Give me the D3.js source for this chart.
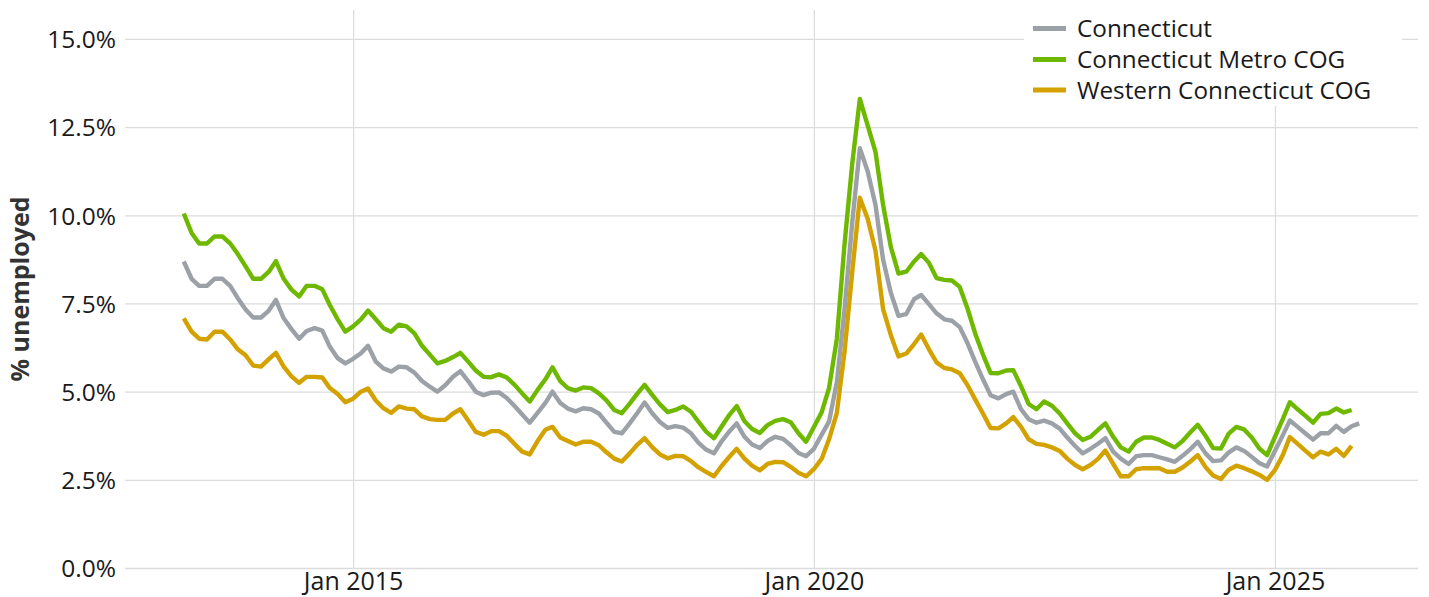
<!DOCTYPE html>
<html>
<head>
<meta charset="utf-8">
<script src="https://cdn.jsdelivr.net/npm/d3@7"></script>
<style>
  body { margin: 0; background: #fff; }
  svg text { font-family: "Open Sans", "Noto Sans", sans-serif; }
</style>
</head>
<body>
<div id="chart"></div>
<script>
// monthly, first of month, starting Mar 2013
let startMonth = new Date(2013, 2, 1);

let ct_values = [
  8.69, 8.2, 8.0, 8.0, 8.2, 8.2, 8.0, 7.65, 7.33, 7.1,
  7.1, 7.3, 7.6, 7.08, 6.78, 6.5, 6.72, 6.8, 6.73, 6.27,
  5.95, 5.8, 5.93, 6.09, 6.3, 5.85, 5.66, 5.57, 5.71, 5.69,
  5.54, 5.3, 5.14, 5.0, 5.18, 5.42, 5.58, 5.3, 5.0, 4.9,
  4.97, 4.98, 4.82, 4.6, 4.35, 4.12, 4.4, 4.68, 5.0, 4.68,
  4.52, 4.44, 4.53, 4.5, 4.38, 4.12, 3.86, 3.82, 4.1, 4.4,
  4.69, 4.38, 4.14, 3.97, 4.02, 3.98, 3.82, 3.55, 3.35, 3.25,
  3.6, 3.88, 4.1, 3.72, 3.5, 3.4, 3.6, 3.72, 3.66, 3.48,
  3.26, 3.17, 3.38, 3.78, 4.15, 5.27, 7.3, 9.8, 11.9, 11.25,
  10.3, 8.75, 7.8, 7.15, 7.2, 7.62, 7.74, 7.48, 7.22, 7.05,
  7.01, 6.83, 6.37, 5.85, 5.35, 4.9, 4.81, 4.93, 5.0, 4.5,
  4.22, 4.12, 4.18, 4.1, 3.95, 3.7, 3.46, 3.25, 3.38, 3.53,
  3.68, 3.3, 3.1, 2.95, 3.17, 3.2, 3.2, 3.14, 3.08, 3.01,
  3.18, 3.37, 3.58, 3.25, 3.03, 3.05, 3.27, 3.42, 3.32, 3.15,
  2.97, 2.88, 3.32, 3.76, 4.18, 4.0, 3.82, 3.64, 3.82, 3.82,
  4.03, 3.86, 4.02, 4.1
];

let metro_values = [
  10.05, 9.5, 9.2, 9.2, 9.4, 9.4, 9.2, 8.9, 8.55, 8.2,
  8.2, 8.4, 8.7, 8.2, 7.9, 7.7, 8.0, 8.0, 7.9, 7.45,
  7.05, 6.7, 6.85, 7.05, 7.3, 7.05, 6.8, 6.7, 6.9, 6.85,
  6.65, 6.3, 6.05, 5.8, 5.87, 5.98, 6.1, 5.85, 5.6, 5.42,
  5.41, 5.49, 5.4, 5.2, 4.95, 4.72, 5.05, 5.35, 5.69, 5.3,
  5.1, 5.03, 5.12, 5.1, 4.95, 4.75, 4.48, 4.39, 4.66, 4.95,
  5.19, 4.9, 4.64, 4.42, 4.48, 4.58, 4.43, 4.14, 3.86, 3.68,
  4.02, 4.35, 4.59, 4.16, 3.94, 3.83, 4.05, 4.17, 4.22, 4.13,
  3.82, 3.58, 4.0, 4.42, 5.1, 6.5, 9.15, 11.47, 13.3, 12.55,
  11.8, 10.3, 9.1, 8.35, 8.4, 8.69, 8.9, 8.65, 8.22, 8.17,
  8.15, 7.97, 7.35, 6.65, 6.05, 5.53, 5.52, 5.6, 5.61, 5.15,
  4.65, 4.5, 4.72, 4.6, 4.38, 4.1, 3.82, 3.63, 3.72, 3.92,
  4.1, 3.72, 3.42, 3.3, 3.58, 3.7, 3.7, 3.63, 3.52, 3.42,
  3.6, 3.85, 4.06, 3.75, 3.4, 3.39, 3.8, 4.0, 3.93, 3.7,
  3.38, 3.2, 3.72, 4.22, 4.7, 4.5, 4.32, 4.12, 4.37, 4.39,
  4.52, 4.41, 4.48
];

let western_values = [
  7.08, 6.7, 6.5, 6.48, 6.7, 6.7, 6.48, 6.2, 6.03, 5.74,
  5.71, 5.92, 6.1, 5.71, 5.44, 5.25, 5.42, 5.42, 5.4, 5.1,
  4.93, 4.7, 4.8, 5.0, 5.09, 4.75, 4.53, 4.4, 4.58, 4.52,
  4.5, 4.3, 4.22, 4.2, 4.2, 4.38, 4.5, 4.18, 3.86, 3.78,
  3.88, 3.88, 3.75, 3.52, 3.3, 3.22, 3.6, 3.92, 4.0, 3.7,
  3.6, 3.5, 3.58, 3.58, 3.48, 3.28, 3.1, 3.02, 3.25, 3.5,
  3.68, 3.42, 3.22, 3.11, 3.18, 3.17, 3.03, 2.85, 2.72, 2.6,
  2.9, 3.16, 3.38, 3.1, 2.9, 2.77, 2.95, 3.01, 3.0, 2.87,
  2.7, 2.6, 2.8, 3.1, 3.65, 4.4, 6.1, 8.4, 10.5, 9.9,
  9.0, 7.35, 6.6, 6.0, 6.08, 6.35, 6.62, 6.2, 5.83, 5.67,
  5.63, 5.52, 5.18, 4.78, 4.38, 3.97, 3.96, 4.1, 4.28, 4.0,
  3.65, 3.52, 3.49, 3.42, 3.32, 3.1, 2.92, 2.8, 2.92, 3.1,
  3.33, 2.95, 2.6, 2.6, 2.8, 2.83, 2.83, 2.83, 2.73, 2.73,
  2.85, 3.02, 3.2, 2.86, 2.62, 2.52, 2.78, 2.9, 2.83, 2.74,
  2.64, 2.5, 2.78, 3.2, 3.71, 3.52, 3.33, 3.14, 3.3, 3.22,
  3.38, 3.18, 3.46
];

let series_names = ["Connecticut", "Connecticut Metro COG", "Western Connecticut COG"];
let series_colors = ["#9ca0a7", "#6eb800", "#d3a200"];
let y_ticks = [0, 2.5, 5, 7.5, 10, 12.5, 15];
let x_ticks = [new Date(2015, 0, 1), new Date(2020, 0, 1), new Date(2025, 0, 1)];

let width = 1429, height = 597;
let panel = {left: 125, right: 1418, top: 10, bottom: 568};

function monthsFrom(n) {
  return d3.range(n).map(i => d3.timeMonth.offset(startMonth, i));
}

let series = [ct_values, metro_values, western_values].map((vals, k) => {
  let dates = monthsFrom(vals.length);
  return {
    name: series_names[k],
    color: series_colors[k],
    points: vals.map((v, i) => ({date: dates[i], value: v}))
  };
});

// ggplot style 5% expansion on the time axis
let allDates = series[0].points.map(d => d.date);
let t0 = d3.min(allDates).getTime(), t1 = d3.max(allDates).getTime();
let pad = (t1 - t0) * 0.05;

let xScale = d3.scaleTime()
  .domain([new Date(t0 - pad), new Date(t1 + pad)])
  .range([panel.left, panel.right]);

let yScale = d3.scaleLinear()
  .domain([0, 15.82])
  .range([panel.bottom, panel.top]);

let svg = d3.select("#chart").append("svg")
  .attr("width", width)
  .attr("height", height)
  .style("background", "#fff");

let grid_color = "#dcdcdc";

// horizontal grid + y labels
let yAxis = d3.axisLeft(yScale)
  .tickValues(y_ticks)
  .tickSize(-(panel.right - panel.left))
  .tickPadding(9)
  .tickFormat(d => d3.format(".1f")(d) + "%");

let gy = svg.append("g")
  .attr("transform", "translate(" + panel.left + ",0)")
  .call(yAxis);
gy.select(".domain").remove();
gy.selectAll(".tick line").attr("stroke", grid_color).attr("stroke-width", 1.3);
gy.selectAll(".tick text")
  .attr("fill", "#1a1a1a")
  .style("font-size", "24.5px")
  .attr("dy", "0.36em");

// vertical grid + x labels
let xAxis = d3.axisBottom(xScale)
  .tickValues(x_ticks)
  .tickSize(-(panel.bottom - panel.top))
  .tickPadding(22)
  .tickFormat(d3.timeFormat("%b %Y"));

let gx = svg.append("g")
  .attr("transform", "translate(0," + panel.bottom + ")")
  .call(xAxis);
gx.select(".domain").remove();
gx.selectAll(".tick line").attr("stroke", grid_color).attr("stroke-width", 1.3);
gx.selectAll(".tick text")
  .attr("fill", "#1a1a1a")
  .style("font-size", "25px")
  .attr("dy", "0");

// y title
svg.append("text")
  .attr("transform", "translate(29," + ((panel.top + panel.bottom) / 2) + ") rotate(-90)")
  .attr("text-anchor", "middle")
  .attr("fill", "#333")
  .style("font-size", "25px")
  .style("font-weight", "bold")
  .text("% unemployed");

// lines
let line = d3.line()
  .x(d => xScale(d.date))
  .y(d => yScale(d.value));

svg.append("g").selectAll("path")
  .data(series)
  .join("path")
  .attr("d", d => line(d.points))
  .attr("fill", "none")
  .attr("stroke", d => d.color)
  .attr("stroke-width", 4.4)
  .attr("stroke-linejoin", "round");

// legend
let legend = svg.append("g");
legend.append("rect")
  .attr("x", 1024).attr("y", 8)
  .attr("width", 378).attr("height", 98)
  .attr("fill", "#fff");

let legendRows = [28.5, 59.5, 90];
let items = legend.selectAll("g.item")
  .data(series)
  .join("g")
  .attr("class", "item")
  .attr("transform", (d, i) => "translate(0," + legendRows[i] + ")");

items.append("line")
  .attr("x1", 1033).attr("x2", 1066)
  .attr("stroke", d => d.color)
  .attr("stroke-width", 5);

items.append("text")
  .attr("x", 1077)
  .attr("dy", "0.36em")
  .attr("fill", "#1a1a1a")
  .style("font-size", "24.3px")
  .text(d => d.name);
</script>
</body>
</html>
